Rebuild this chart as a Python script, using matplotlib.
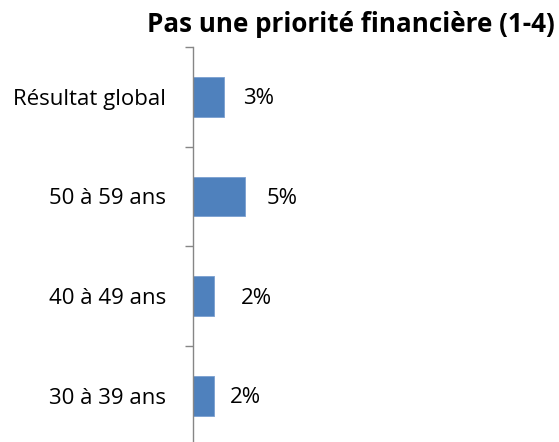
import matplotlib
matplotlib.use("Agg")
import matplotlib.pyplot as plt
from matplotlib.ticker import FixedLocator

categories = ["Résultat global", "50 à 59 ans", "40 à 49 ans", "30 à 39 ans"]
values = [3, 5, 2, 2]
value_labels = ["3%", "5%", "2%", "2%"]
label_offsets_px = [19, 22, 27, 16]
title = "Pas une priorité financière (1-4)"

W, H = 559, 442
fig = plt.figure(figsize=(W / 100, H / 100), dpi=100)
plt.rcParams['font.family'] = ['Open Sans', 'DejaVu Sans']

ax_left = 193 / W
ax_top = 47
ax_bottom = 445.5
px_per_unit = 10.3
ax_w_px = W - 193
ax = fig.add_axes([ax_left, (H - ax_bottom) / H, ax_w_px / W, (ax_bottom - ax_top) / H])
ax.set_xlim(0, ax_w_px / px_per_unit)
n = len(categories)
ax.set_ylim(n - 0.5, -0.5)

ypos = list(range(n))
ax.barh(ypos, values, height=0.4, color="#4F81BD", edgecolor="#7A9FD0", linewidth=0.6)

for y, v, lab, off in zip(ypos, values, value_labels, label_offsets_px):
    ax.annotate(lab, xy=(v, y), xytext=(off * 72 / 100, -2 * 0.72), textcoords="offset points",
                ha="left", va="center", fontsize=16, color="black")

for s in ["top", "right", "bottom"]:
    ax.spines[s].set_visible(False)
ax.spines["left"].set_color("#868686")
ax.spines["left"].set_linewidth(1.0)
ax.set_xticks([])
ax.yaxis.set_major_locator(FixedLocator([i - 0.5 for i in range(n + 1)]))
ax.yaxis.set_minor_locator(FixedLocator(ypos))
ax.set_yticklabels([], minor=False)
ax.set_yticks(ypos, labels=categories, minor=True)
ax.tick_params(axis="y", which="major", direction="out", length=8 * 0.72, width=1.0, color="#868686")
ax.tick_params(axis="y", which="minor", length=0, pad=27 * 0.72, labelsize=16)
ax.patch.set_alpha(0)

fig.text(351 / W, 1 - 24 / H, title, ha="center", va="center", fontsize=18.7, fontweight="bold")

fig.savefig("out.png", dpi=100)
